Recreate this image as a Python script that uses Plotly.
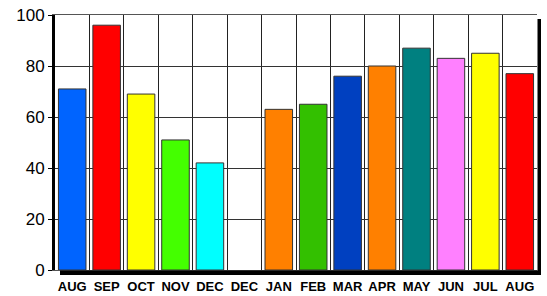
import plotly.graph_objects as go

months = ["AUG", "SEP", "OCT", "NOV", "DEC", "DEC", "JAN", "FEB", "MAR", "APR", "MAY", "JUN", "JUL", "AUG"]
values = [71, 96, 69, 51, 42, 0, 63, 65, 76, 80, 87, 83, 85, 77]
colors = ["#0064ff", "#ff0000", "#ffff00", "#44ff00", "#00ffff", "#ffffff", "#ff8000",
          "#33c000", "#0040c0", "#ff8000", "#008080", "#ff80ff", "#ffff00", "#ff0000"]
y_ticks = [0, 20, 40, 60, 80, 100]

xs = list(range(len(months)))
line_widths = [1 if v > 0 else 0 for v in values]

fig = go.Figure(go.Bar(
    x=xs, y=values, width=0.8,
    marker=dict(color=colors, line=dict(color="#333333", width=line_widths)),
))

W, H = 547, 296
L, R, T, B = 55, 10, 15, 26
pw, ph = W - L - R, H - T - B

def px_x(p):
    return (p - L) / pw

def px_y(p):
    return (H - B - p) / ph

fig.update_layout(
    width=W, height=H,
    margin=dict(l=L, r=R, t=T, b=B, autoexpand=False),
    paper_bgcolor="white", plot_bgcolor="white",
    showlegend=False,
    bargap=0.2,
    shapes=[
        dict(type="rect", xref="paper", yref="paper",
             x0=px_x(60), x1=px_x(541), y0=px_y(275), y1=px_y(270.5),
             fillcolor="black", line=dict(width=0), layer="above"),
        dict(type="rect", xref="paper", yref="paper",
             x0=px_x(537.5), x1=px_x(541), y0=px_y(275), y1=px_y(19),
             fillcolor="black", line=dict(width=0), layer="above"),
    ],
)

fig.update_xaxes(
    range=[-0.5, len(months) - 0.5],
    tickmode="array", tickvals=xs, ticktext=months,
    tickfont=dict(family="Liberation Sans, Arial", size=13, color="black", weight="bold"),
    ticklabelstandoff=4,
    showgrid=False, ticks="", ticklen=0,
    showline=True, linecolor="#555555", linewidth=1, mirror=True,
    minor=dict(tickvals=[i + 0.5 for i in xs[:-1]], showgrid=True, gridcolor="#222222", gridwidth=1),
    zeroline=False, fixedrange=True, automargin=False,
)
fig.update_yaxes(
    range=[0, 100], tickmode="array", tickvals=y_ticks,
    tickfont=dict(family="Liberation Sans, Arial", size=17, color="black"),
    showgrid=True, gridcolor="#333333", gridwidth=1,
    showline=True, linecolor="black", linewidth=3,
    ticks="outside", ticklen=4, tickcolor="black",
    zeroline=False, fixedrange=True, automargin=False,
)

fig.write_html("out.html", config={"displayModeBar": False})
with open("out.html", "r", encoding="utf-8") as f:
    html = f.read()
html = html.replace("<head>", "<head><style>html,body{margin:0;padding:0;overflow:hidden;}</style>", 1)
with open("out.html", "w", encoding="utf-8") as f:
    f.write(html)
